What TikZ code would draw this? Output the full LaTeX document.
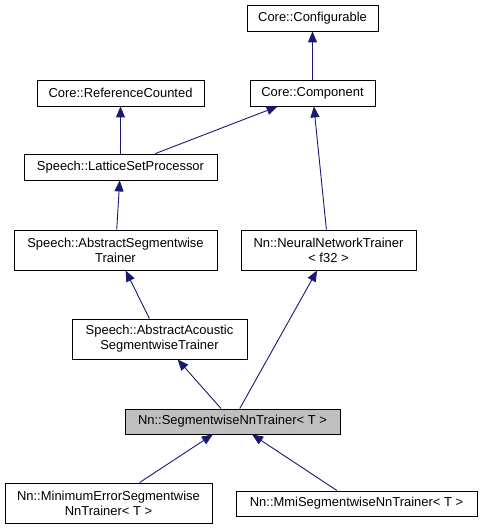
\documentclass[tikz,border=0pt]{standalone}
\usepackage{fontspec}
\setmainfont{Liberation Sans}
\usetikzlibrary{arrows.meta}
\definecolor{midnightblue}{HTML}{191970}
\definecolor{current}{HTML}{BFBFBF}
\begin{document}
\begin{tikzpicture}[x=1bp, y=-1bp, >={Triangle[length=11bp, width=9bp]},
        cls/.style={draw=black, line width=0.9bp, fill=white, align=center,
            inner sep=1bp, font=\fontsize{13}{15}\selectfont},
        edge/.style={->, draw=midnightblue, line width=0.9bp}]
        % ==== FRAME ====
        \useasboundingbox (0,0) rectangle (482,529);

        % ==== CORE ====
        \node[cls, minimum width=131bp, minimum height=26bp] (conf) at (312.5,18) {Core::Configurable};
        \node[cls, minimum width=167bp, minimum height=26bp] (refc) at (120.5,93) {Core::ReferenceCounted};
        \node[cls, minimum width=125bp, minimum height=26bp] (comp) at (312.5,93) {Core::Component};

        % ==== SPEECH ====
        \node[cls, minimum width=193bp, minimum height=26bp] (lsp) at (120.5,167) {Speech::LatticeSetProcessor};
        \node[cls, minimum width=203bp, minimum height=40bp] (aseg) at (115.5,250) {Speech::AbstractSegmentwise\\Trainer};
        \node[cls, minimum width=175bp, minimum height=40bp] (aac) at (159.5,339) {Speech::AbstractAcoustic\\SegmentwiseTrainer};

        % ==== NN ====
        \node[cls, minimum width=175bp, minimum height=40bp] (nnt) at (328.5,250) {Nn::NeuralNetworkTrainer\\< f32 >};
        \node[cls, fill=current, minimum width=215bp, minimum height=25bp] (snn) at (232.5,421.5) {Nn::SegmentwiseNnTrainer< T >};
        \node[cls, minimum width=207bp, minimum height=40bp] (mes) at (108.5,503) {Nn::MinimumErrorSegmentwise\\NnTrainer< T >};
        \node[cls, minimum width=241bp, minimum height=25bp] (mmi) at (356.5,503.5) {Nn::MmiSegmentwiseNnTrainer< T >};

        % ==== INHERITANCE ====
        \draw[edge] (comp) -- (conf);
        \draw[edge] (lsp) -- (refc);
        \draw[edge] (lsp) -- (comp);
        \draw[edge] (nnt) -- (comp);
        \draw[edge] (aseg) -- (lsp);
        \draw[edge] (aac) -- (aseg);
        \draw[edge] (snn) -- (aac);
        \draw[edge] (snn) -- (nnt);
        \draw[edge] (mes) -- (snn);
        \draw[edge] (mmi) -- (snn);
    \end{tikzpicture}
\end{document}
